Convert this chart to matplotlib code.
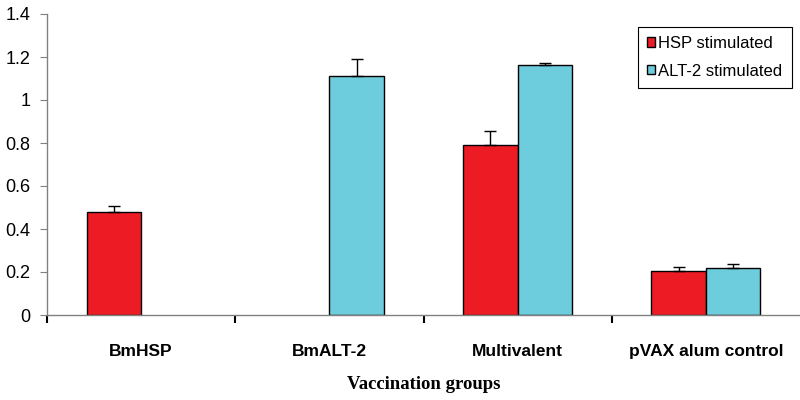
import matplotlib.pyplot as plt
import numpy as np

# Data
groups = ["BmHSP", "BmALT-2", "Multivalent", "pVAX alum control"]
hsp = [0.48, 0.0, 0.79, 0.205]
hsp_err = [0.025, 0.0, 0.065, 0.02]
alt2 = [0.0, 1.11, 1.165, 0.22]
alt2_err = [0.0, 0.08, 0.005, 0.015]

red = '#ED1C24'
blue = '#6DCDDC'

fig = plt.figure(figsize=(8, 4), dpi=100)
ax = fig.add_axes([47 / 800, 1 - 315 / 400, 1 - 47 / 800, (315 - 14) / 400])

x = np.arange(len(groups))
w = 0.29
err_kw = dict(capsize=4, ecolor='black', elinewidth=1, capthick=1)

# only upper error bars, skip empty bars
h = np.array(hsp)
a = np.array(alt2)
ax.bar(x[h > 0] - w / 2, h[h > 0], w,
       color=red, edgecolor='black', linewidth=1,
       yerr=[np.zeros((h > 0).sum()), np.array(hsp_err)[h > 0]],
       error_kw=err_kw, label='HSP stimulated')
ax.bar(x[a > 0] + w / 2, a[a > 0], w,
       color=blue, edgecolor='black', linewidth=1,
       yerr=[np.zeros((a > 0).sum()), np.array(alt2_err)[a > 0]],
       error_kw=err_kw, label='ALT-2 stimulated')

ax.set_xlim(-0.5, 3.5)
ax.set_ylim(0, 1.4)
ax.set_yticks(np.arange(0, 1.41, 0.2))
ax.set_yticklabels(['0', '0.2', '0.4', '0.6', '0.8', '1', '1.2', '1.4'],
                   fontsize=13, family='Liberation Sans')

ax.set_xticks(x)
ax.set_xticklabels(groups, fontsize=12.5, fontweight='bold', family='Liberation Sans')
ax.set_xticks([-0.5, 0.5, 1.5, 2.5], minor=True)
ax.tick_params(axis='x', which='major', length=0, pad=21)
ax.tick_params(axis='x', which='minor', length=6, width=1.5, color='black', direction='out')
ax.tick_params(axis='y', length=5, color='#808080', direction='out', pad=7)

for s in ['top', 'right']:
    ax.spines[s].set_visible(False)
for s in ['left', 'bottom']:
    ax.spines[s].set_color('#808080')
    ax.spines[s].set_linewidth(1)

ax.set_xlabel('Vaccination groups', fontsize=13.5, fontweight='bold',
              family='Liberation Serif', labelpad=12)

leg = ax.legend(loc='upper right', bbox_to_anchor=(0.989, 0.957), borderaxespad=0,
                prop={'family': 'Liberation Sans', 'size': 12},
                fancybox=False, edgecolor='black', framealpha=1,
                handlelength=0.5, handleheight=0.5, handletextpad=0.2,
                borderpad=0.55, labelspacing=0.75)
leg.get_frame().set_linewidth(0.8)

plt.savefig('out.png', dpi=100)
